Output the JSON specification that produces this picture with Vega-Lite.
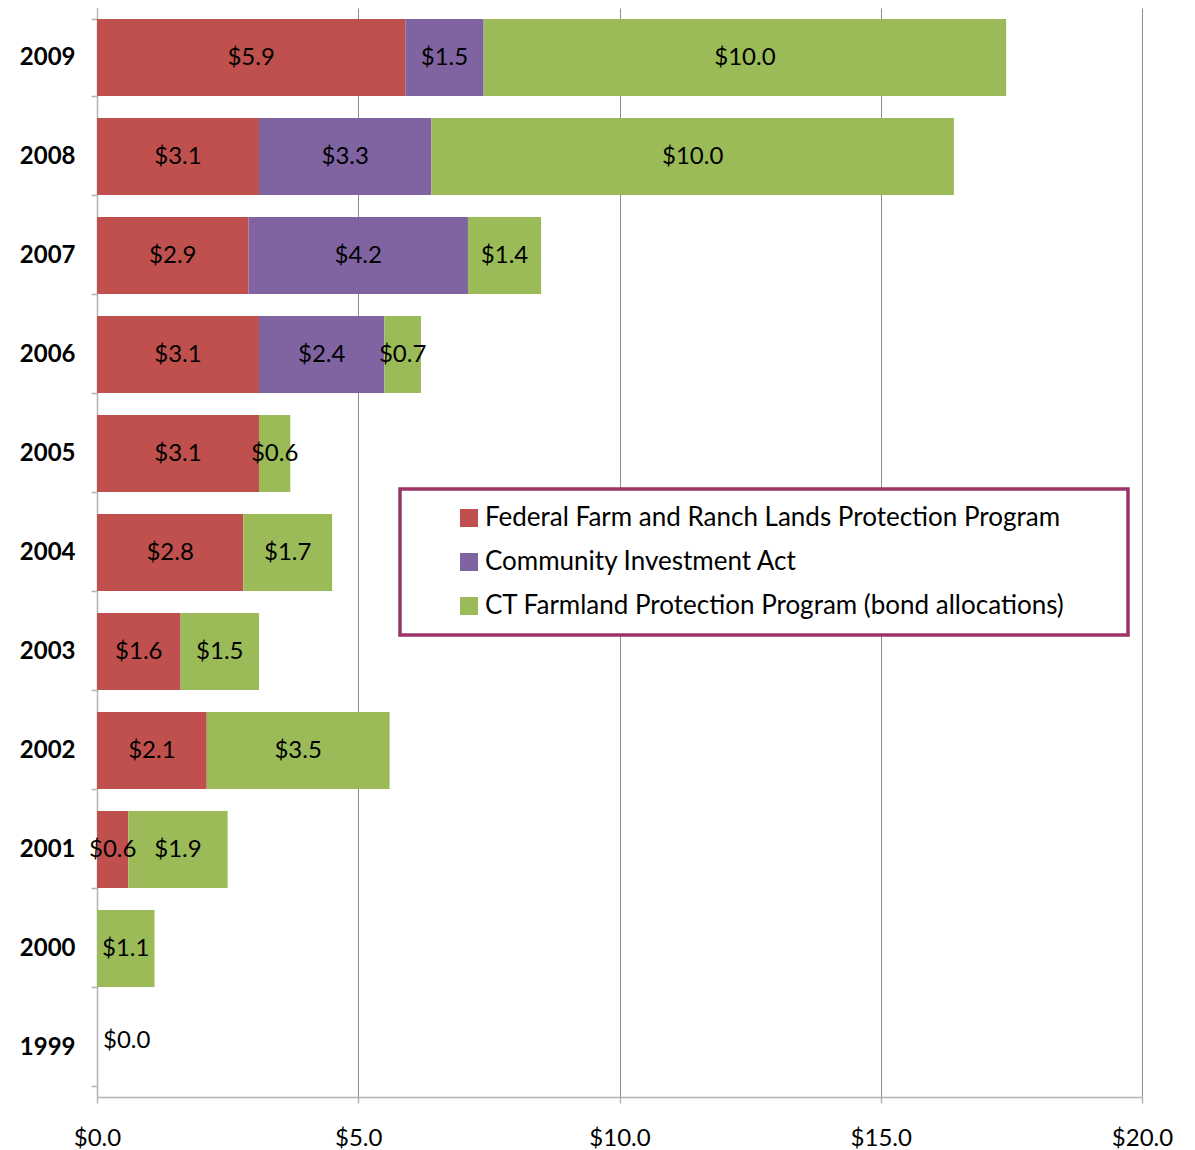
{
  "$schema": "https://vega.github.io/schema/vega-lite/v6.json",
  "width": 1045,
  "height": 1089,
  "autosize": {"type": "none"},
  "padding": {"left": 97, "top": 8, "right": 53, "bottom": 53},
  "background": "white",
  "config": {
    "view": {"stroke": null},
    "font": "Lato",
    "axis": {"labelFont": "Lato", "labelColor": "#000000", "domainColor": "#B3B3B3", "domainWidth": 1.5, "tickColor": "#B3B3B3", "tickWidth": 1.5, "tickSize": 6}
  },
  "data": {
    "values": [
      {"year": "2009", "program": "Federal Farm and Ranch Lands Protection Program", "o": 1, "value": 5.9},
      {"year": "2009", "program": "Community Investment Act", "o": 2, "value": 1.5},
      {"year": "2009", "program": "CT Farmland Protection Program (bond allocations)", "o": 3, "value": 10.0},
      {"year": "2008", "program": "Federal Farm and Ranch Lands Protection Program", "o": 1, "value": 3.1},
      {"year": "2008", "program": "Community Investment Act", "o": 2, "value": 3.3},
      {"year": "2008", "program": "CT Farmland Protection Program (bond allocations)", "o": 3, "value": 10.0},
      {"year": "2007", "program": "Federal Farm and Ranch Lands Protection Program", "o": 1, "value": 2.9},
      {"year": "2007", "program": "Community Investment Act", "o": 2, "value": 4.2},
      {"year": "2007", "program": "CT Farmland Protection Program (bond allocations)", "o": 3, "value": 1.4},
      {"year": "2006", "program": "Federal Farm and Ranch Lands Protection Program", "o": 1, "value": 3.1},
      {"year": "2006", "program": "Community Investment Act", "o": 2, "value": 2.4},
      {"year": "2006", "program": "CT Farmland Protection Program (bond allocations)", "o": 3, "value": 0.7},
      {"year": "2005", "program": "Federal Farm and Ranch Lands Protection Program", "o": 1, "value": 3.1},
      {"year": "2005", "program": "CT Farmland Protection Program (bond allocations)", "o": 3, "value": 0.6},
      {"year": "2004", "program": "Federal Farm and Ranch Lands Protection Program", "o": 1, "value": 2.8},
      {"year": "2004", "program": "CT Farmland Protection Program (bond allocations)", "o": 3, "value": 1.7},
      {"year": "2003", "program": "Federal Farm and Ranch Lands Protection Program", "o": 1, "value": 1.6},
      {"year": "2003", "program": "CT Farmland Protection Program (bond allocations)", "o": 3, "value": 1.5},
      {"year": "2002", "program": "Federal Farm and Ranch Lands Protection Program", "o": 1, "value": 2.1},
      {"year": "2002", "program": "CT Farmland Protection Program (bond allocations)", "o": 3, "value": 3.5},
      {"year": "2001", "program": "Federal Farm and Ranch Lands Protection Program", "o": 1, "value": 0.6},
      {"year": "2001", "program": "CT Farmland Protection Program (bond allocations)", "o": 3, "value": 1.9},
      {"year": "2000", "program": "CT Farmland Protection Program (bond allocations)", "o": 3, "value": 1.1},
      {"year": "1999", "program": "CT Farmland Protection Program (bond allocations)", "o": 3, "value": 0.0}
    ]
  },
  "encoding": {
    "y": {
      "field": "year", "type": "ordinal", "sort": "descending", "title": null,
      "scale": {"paddingInner": 0.22, "paddingOuter": 0.11},
      "axis": {"tickBand": "extent", "labelFontSize": 24, "labelFontWeight": "bold", "labelPadding": 16, "grid": false}
    }
  },
  "layer": [
    {
      "mark": {"type": "bar"},
      "encoding": {
        "x": {
          "field": "value", "type": "quantitative", "stack": "zero", "title": null,
          "scale": {"domain": [0, 20], "nice": false},
          "axis": {"values": [0, 5, 10, 15, 20], "format": "$.1f", "labelFontSize": 24, "labelPadding": 23, "labelFlush": false, "grid": true, "gridColor": "#8C8C8C", "gridWidth": 1}
        },
        "color": {
          "field": "program", "type": "nominal",
          "scale": {
            "domain": ["Federal Farm and Ranch Lands Protection Program", "Community Investment Act", "CT Farmland Protection Program (bond allocations)"],
            "range": ["#C0504D", "#8064A2", "#9BBB59"]
          },
          "legend": {
            "orient": "none", "legendX": 303, "legendY": 481,
            "title": " ", "titleOrient": "left", "titlePadding": 40, "titleFontSize": 10,
            "symbolType": "square", "symbolSize": 324, "symbolStrokeWidth": 0, "symbolOpacity": 1,
            "labelFontSize": 26, "labelFont": "Lato", "labelColor": "#000000", "labelOffset": 3, "labelLimit": 900,
            "rowPadding": 18, "padding": 16,
            "strokeColor": "#9B3366", "fillColor": "#FFFFFF",
            "labelExpr": "datum.label + '\u00a0\u00a0\u00a0\u00a0\u00a0\u00a0\u00a0\u200b'",
            "encode": {"legend": {"update": {"strokeWidth": {"value": 3.5}}}}
          }
        },
        "order": {"field": "o", "type": "quantitative"}
      }
    },
    {
      "transform": [{"filter": "datum.value > 0"}],
      "mark": {"type": "text", "fontSize": 24, "font": "Lato", "color": "#000000", "baseline": "middle", "align": "center"},
      "encoding": {
        "x": {"field": "value", "type": "quantitative", "stack": "zero", "bandPosition": 0.5},
        "detail": {"field": "program"},
        "order": {"field": "o", "type": "quantitative"},
        "text": {"field": "value", "type": "quantitative", "format": "$.1f"}
      }
    },
    {
      "transform": [{"filter": "datum.value == 0"}],
      "mark": {"type": "text", "fontSize": 24, "font": "Lato", "color": "#000000", "baseline": "middle", "align": "left", "dx": 6, "dy": -7},
      "encoding": {
        "x": {"field": "value", "type": "quantitative"},
        "text": {"field": "value", "type": "quantitative", "format": "$.1f"}
      }
    }
  ]
}
